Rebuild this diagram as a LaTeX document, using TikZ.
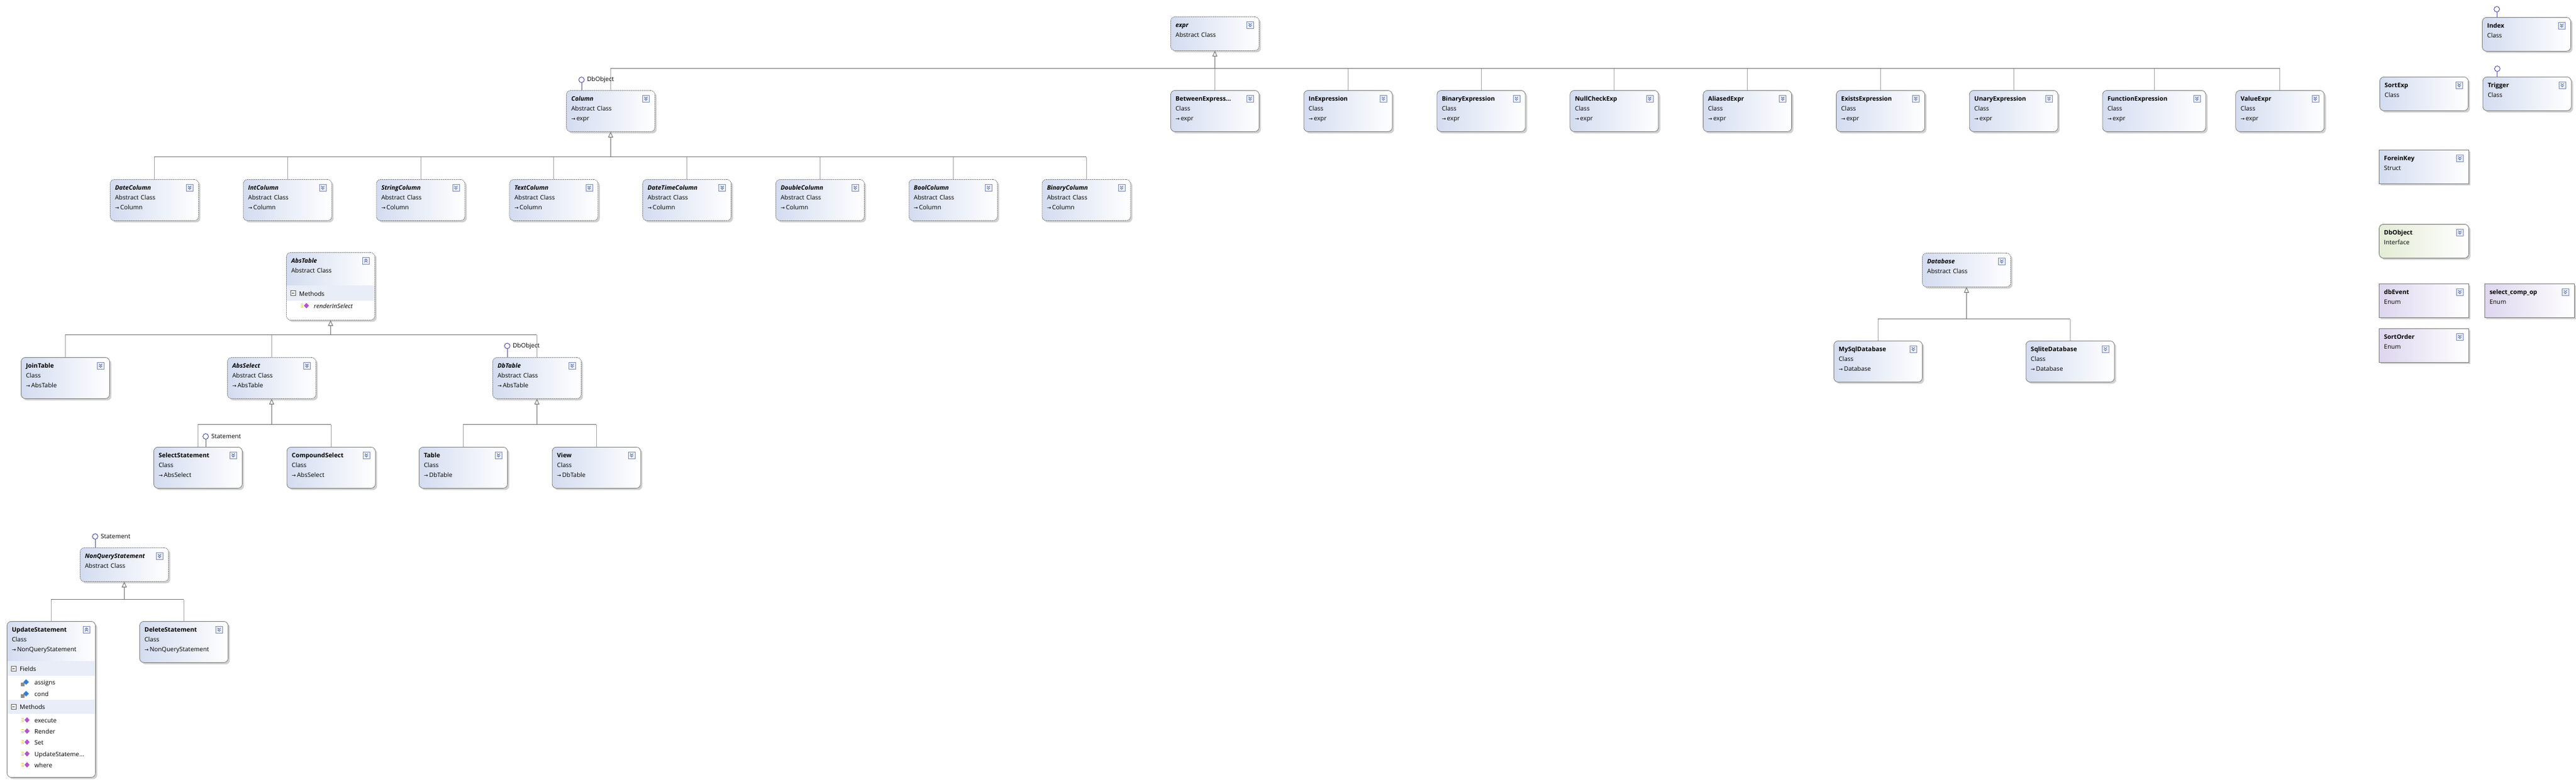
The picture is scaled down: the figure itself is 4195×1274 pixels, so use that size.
\documentclass[tikz,border=0pt]{standalone}
\usepackage{fontspec}
\setmainfont{Open Sans}
\newfontfamily\arrowfont{DejaVu Sans}
\usetikzlibrary{positioning, calc, shadows, arrows.meta}

\definecolor{clsblue}{HTML}{D3DCF0}
\definecolor{ifgreen}{HTML}{E3ECD5}
\definecolor{enumlilac}{HTML}{DDD6EE}
\definecolor{boxline}{HTML}{7E7E7E}
\definecolor{bandblue}{HTML}{E9EDF7}
\definecolor{linegray}{HTML}{747474}
\definecolor{stubgray}{HTML}{A6A6A6}
\definecolor{lollyblue}{HTML}{3B3BA8}
\definecolor{chevblue}{HTML}{4B5F9E}
\definecolor{chevfill}{HTML}{EBF0FA}
\definecolor{methpurple}{HTML}{B553C9}
\definecolor{methyellow}{HTML}{E3C94A}
\definecolor{fieldblue}{HTML}{2F7FD6}

\newcommand\absname[1]{\textbf{\textit{#1}}}
\newcommand\clsname[1]{\textbf{#1}}
\newcommand\inh{{\arrowfont\fontsize{8}{8}\selectfont →}\,}

% buttons and compartments, drawn inside a box (path picture)
\newcommand\chevdown{%
  \draw[chevframe] ([shift={(-20pt,-8pt)}]path picture bounding box.north east) rectangle ++(11pt,-11pt);
  \foreach \d in {10.5pt,13.5pt}
    \draw[chevline] ([shift={(-17pt,-\d)}]path picture bounding box.north east) -- ++(2.5pt,-2.5pt) -- ++(2.5pt,2.5pt);
}
\newcommand\chevup{%
  \draw[chevframe] ([shift={(-20pt,-8pt)}]path picture bounding box.north east) rectangle ++(11pt,-11pt);
  \foreach \d in {13pt,16pt}
    \draw[chevline] ([shift={(-17pt,-\d)}]path picture bounding box.north east) -- ++(2.5pt,2.5pt) -- ++(2.5pt,-2.5pt);
}
\newcommand\boxhead[1]{\shade[sharp corners, left color=clsblue, right color=white] (path picture bounding box.north west) rectangle ([yshift=-#1]path picture bounding box.north east);}
\newcommand\boxband[2]{\fill[sharp corners, bandblue] ([yshift=-#1]path picture bounding box.north west) rectangle ([yshift=-#2]path picture bounding box.north east);}

\tikzset{
	classbox/.style={
		draw=boxline, line width=0.8pt, rounded corners=7pt,
		anchor=north west, align=left, text width=128pt,
		inner xsep=8pt, inner ysep=4pt, text height=13pt,
		font=\fontsize{10}{16}\selectfont,
		left color=clsblue, right color=white,
		drop shadow={shadow xshift=3pt, shadow yshift=-3pt, fill=black!18, opacity=1},
		path picture={\chevdown}
	},
	tall/.style={text depth=46pt},   % three lines
	short/.style={text depth=34pt},  % two lines
	abstract/.style={dash pattern=on 2pt off 1pt},
	openbox/.style={left color=white, right color=white},
	structbox/.style={rounded corners=0pt, text width=130pt},
	enumbox/.style={rounded corners=0pt, text width=130pt, left color=enumlilac},
	ifacebox/.style={text width=130pt, left color=ifgreen, draw=black!55},
	chevframe/.style={sharp corners, solid, line width=0.6pt, draw=chevblue!70, fill=chevfill},
	chevline/.style={sharp corners, solid, line width=0.8pt, draw=chevblue},
	gen/.style={draw=linegray, line width=1.1pt, -{Triangle[open, length=9pt, width=8pt, line width=0.9pt]}},
	bus/.style={draw=linegray, line width=1.1pt},
	stub/.style={draw=stubgray, line width=1pt},
	lolly/.style={circle, draw=lollyblue, line width=0.8pt, inner sep=0pt, minimum size=9pt, fill=white},
	lollyline/.style={draw=lollyblue!85, line width=0.8pt},
	lollytext/.style={font=\fontsize{10}{12}\selectfont, inner sep=0pt},
	itemtext/.style={anchor=base west, inner sep=0pt, font=\fontsize{10}{12}\selectfont},
	minus/.style={draw=black!60, fill=white, line width=0.6pt, inner sep=0pt, minimum size=8pt,
		path picture={\draw[black!75, line width=0.8pt] ([xshift=2pt]path picture bounding box.west) -- ([xshift=-2pt]path picture bounding box.east);}},
	methodicon/.pic={
		\foreach \yy in {-2.5,0,2.5} \draw[methyellow, line width=0.8pt] (0,\yy) -- (4,\yy);
		\fill[methpurple] (5,0) -- (9,-4.5) -- (13,0) -- (9,4.5) -- cycle;
	},
	fieldicon/.pic={
		\fill[fieldblue] (5,0) -- (9.5,-4.5) -- (14,0) -- (9.5,4.5) -- cycle;
		\fill[black!45] (1,1) rectangle (7,7);
	}
}

\begin{document}
\begin{tikzpicture}[x=1pt, y=-1pt]
	\useasboundingbox[fill=white] (0,0) rectangle (4195,1274);

	% expr and its subclasses
	\node[classbox, short, abstract] (expr) at (1906,27) {\absname{expr}\\Abstract Class};
	\node[classbox, tall, abstract] (column) at (922,147) {\absname{Column}\\Abstract Class\\\inh expr};
	\node[classbox, tall] (between) at (1906,147) {\clsname{BetweenExpress\ldots}\\Class\\\inh expr};
	\foreach \nm/\prev/\ttl in {inexpr/between/InExpression, binexpr/inexpr/BinaryExpression,
		nullcheck/binexpr/NullCheckExp, aliased/nullcheck/AliasedExpr,
		exists/aliased/ExistsExpression, unary/exists/UnaryExpression}
		\node[classbox, tall, right=72pt of \prev] (\nm) {\clsname{\ttl}\\Class\\\inh expr};
	\node[classbox, tall, text width=152pt, right=72pt of unary] (funcexpr) {\clsname{FunctionExpression}\\Class\\\inh expr};
	\node[classbox, tall, right=48pt of funcexpr] (valueexpr) {\clsname{ValueExpr}\\Class\\\inh expr};

	\coordinate (exprbus) at ($(expr.south)+(0,29)$);
	\draw[bus] (exprbus -| column.north) -- (exprbus -| valueexpr.north);
	\foreach \nm in {column,between,inexpr,binexpr,nullcheck,aliased,exists,unary,funcexpr,valueexpr}
		\draw[stub] (\nm.north) -- (\nm.north |- exprbus);
	\draw[gen] (exprbus) -- (expr.south);

	\node[lolly] (colif) at ([xshift=25pt,yshift=17pt]column.north west) {};
	\draw[lollyline] (colif) -- (colif |- column.north);
	\node[lollytext, right=4pt of colif] (coliftxt) {DbObject};

	% column types
	\node[classbox, tall, abstract] (datecol) at (179,292) {\absname{DateColumn}\\Abstract Class\\\inh Column};
	\foreach \nm/\prev/\ttl in {intcol/datecol/IntColumn, strcol/intcol/StringColumn,
		textcol/strcol/TextColumn, dtcol/textcol/DateTimeColumn, dblcol/dtcol/DoubleColumn,
		boolcol/dblcol/BoolColumn, bincol/boolcol/BinaryColumn}
		\node[classbox, tall, abstract, right=72pt of \prev] (\nm) {\absname{\ttl}\\Abstract Class\\\inh Column};

	\coordinate (colbus) at ($(column.south)+(0,41)$);
	\draw[bus] (colbus -| datecol.north) -- (colbus -| bincol.north);
	\foreach \nm in {datecol,intcol,strcol,textcol,dtcol,dblcol,boolcol,bincol}
		\draw[stub] (\nm.north) -- (\nm.north |- colbus);
	\draw[gen] (colbus) -- (column.south);

	% tables
	\node[classbox, abstract, openbox, text depth=89pt,
		path picture={\boxhead{54pt}\boxband{54pt}{79pt}\chevup}] (abstable) at (466,411)
		{\absname{AbsTable}\\Abstract Class};
	\node[minus] (absminus) at ([shift={(11pt,-66.5pt)}]abstable.north west) {};
	\node[itemtext] (absmeth) at ([shift={(21pt,-71pt)}]abstable.north west) {Methods};
	\pic at ([shift={(24pt,-87pt)}]abstable.north west) {methodicon};
	\node[itemtext] (absrender) at ([shift={(45pt,-91pt)}]abstable.north west) {\textit{renderInSelect}};

	\node[classbox, tall] (jointable) at (34,582) {\clsname{JoinTable}\\Class\\\inh AbsTable};
	\node[classbox, tall, abstract] (absselect) at (370,582) {\absname{AbsSelect}\\Abstract Class\\\inh AbsTable};
	\node[classbox, tall, abstract] (dbtable) at (802,582) {\absname{DbTable}\\Abstract Class\\\inh AbsTable};

	\coordinate (tablebus) at ($(abstable.south)+(0,24)$);
	\draw[bus] (tablebus -| jointable.north) -- (tablebus -| dbtable.north);
	\foreach \nm in {jointable,absselect,dbtable}
		\draw[stub] (\nm.north) -- (\nm.north |- tablebus);
	\draw[gen] (tablebus) -- (abstable.south);

	\node[lolly] (dbtif) at ([xshift=24pt,yshift=18.5pt]dbtable.north west) {};
	\draw[lollyline] (dbtif) -- (dbtif |- dbtable.north);
	\node[lollytext, right=4pt of dbtif] (dbtiftxt) {DbObject};

	\node[classbox, tall] (selectstmt) at (250,728) {\clsname{SelectStatement}\\Class\\\inh AbsSelect};
	\node[classbox, tall, right=72pt of selectstmt] (compound) {\clsname{CompoundSelect}\\Class\\\inh AbsSelect};
	\coordinate (selbus) at ($(absselect.south)+(0,42)$);
	\draw[bus] (selbus -| selectstmt.north) -- (selbus -| compound.north);
	\foreach \nm in {selectstmt,compound}
		\draw[stub] (\nm.north) -- (\nm.north |- selbus);
	\draw[gen] (selbus) -- (absselect.south);

	\node[lolly] (selif) at ([xshift=85pt,yshift=17pt]selectstmt.north west) {};
	\draw[lollyline] (selif) -- (selif |- selectstmt.north);
	\node[lollytext, right=4pt of selif] (seliftxt) {Statement};

	\node[classbox, tall] (tablecls) at (682,728) {\clsname{Table}\\Class\\\inh DbTable};
	\node[classbox, tall, right=72pt of tablecls] (viewcls) {\clsname{View}\\Class\\\inh DbTable};
	\coordinate (dbtbus) at ($(dbtable.south)+(0,42)$);
	\draw[bus] (dbtbus -| tablecls.north) -- (dbtbus -| viewcls.north);
	\foreach \nm in {tablecls,viewcls}
		\draw[stub] (\nm.north) -- (\nm.north |- dbtbus);
	\draw[gen] (dbtbus) -- (dbtable.south);

	% statements
	\node[classbox, short, abstract] (nonquery) at (130,892) {\absname{NonQueryStatement}\\Abstract Class};
	\node[lolly] (nqif) at ([xshift=25pt,yshift=18pt]nonquery.north west) {};
	\draw[lollyline] (nqif) -- (nqif |- nonquery.north);
	\node[lollytext, right=4pt of nqif] (nqiftxt) {Statement};

	\node[classbox, openbox, text depth=233pt,
		path picture={\boxhead{65pt}\boxband{65pt}{89pt}\boxband{128pt}{151pt}\chevup}] (update) at (11,1012)
		{\clsname{UpdateStatement}\\Class\\\inh NonQueryStatement};
	\node[classbox, tall] (delete) at (227,1012) {\clsname{DeleteStatement}\\Class\\\inh NonQueryStatement};

	\node[minus] (updfminus) at ([shift={(11pt,-77pt)}]update.north west) {};
	\node[itemtext] (updfields) at ([shift={(21pt,-81pt)}]update.north west) {Fields};
	\foreach \nm/\yy in {assigns/103, cond/122} {
		\pic at ([shift={(22pt,-\yy pt+4pt)}]update.north west) {fieldicon};
		\node[itemtext] (upd-\nm) at ([shift={(45pt,-\yy pt)}]update.north west) {\nm};
	}
	\node[minus] (updmminus) at ([shift={(11pt,-139.5pt)}]update.north west) {};
	\node[itemtext] (updmeth) at ([shift={(21pt,-143pt)}]update.north west) {Methods};
	\foreach \nm/\ttl/\yy in {execute/execute/165, render/Render/183, set/Set/201,
		ctor/UpdateStateme\ldots/220, where/where/238} {
		\pic at ([shift={(24pt,-\yy pt+4pt)}]update.north west) {methodicon};
		\node[itemtext] (upd-\nm) at ([shift={(45pt,-\yy pt)}]update.north west) {\ttl};
	}

	\coordinate (nqbus) at ($(nonquery.south)+(0,29)$);
	\draw[bus] (nqbus -| update.north) -- (nqbus -| delete.north);
	\foreach \nm in {update,delete}
		\draw[stub] (\nm.north) -- (\nm.north |- nqbus);
	\draw[gen] (nqbus) -- (nonquery.south);

	% databases
	\node[classbox, short, abstract] (database) at (3130,412) {\absname{Database}\\Abstract Class};
	\node[classbox, tall] (mysql) at (2986,555) {\clsname{MySqlDatabase}\\Class\\\inh Database};
	\node[classbox, tall, right=168pt of mysql] (sqlite) {\clsname{SqliteDatabase}\\Class\\\inh Database};
	\coordinate (dbbus) at ($(database.south)+(0,52)$);
	\draw[bus] (dbbus -| mysql.north) -- (dbbus -| sqlite.north);
	\foreach \nm in {mysql,sqlite}
		\draw[stub] (\nm.north) -- (\nm.north |- dbbus);
	\draw[gen] (dbbus) -- (database.south);

	% loose types
	\node[classbox, short] (index) at (4042,28) {\clsname{Index}\\Class};
	\node[classbox, short] (sortexp) at (3875,125) {\clsname{SortExp}\\Class};
	\node[classbox, short, right=23pt of sortexp] (trigger) {\clsname{Trigger}\\Class};
	\foreach \nm in {index,trigger} {
		\node[lolly] (\nm-if) at ([xshift=24pt,yshift=13pt]\nm.north west) {};
		\draw[lollyline] (\nm-if) -- (\nm-if |- \nm.north);
	}
	\node[classbox, short, structbox] (foreinkey) at (3874,244) {\clsname{ForeinKey}\\Struct};
	\node[classbox, short, ifacebox] (dbobject) at (3874,365) {\clsname{DbObject}\\Interface};
	\node[classbox, short, enumbox] (dbevent) at (3874,462) {\clsname{dbEvent}\\Enum};
	\node[classbox, short, enumbox, right=25pt of dbevent] (compop) {\clsname{select\_comp\_op}\\Enum};
	\node[classbox, short, enumbox] (sortorder) at (3874,535) {\clsname{SortOrder}\\Enum};
\end{tikzpicture}
\end{document}
